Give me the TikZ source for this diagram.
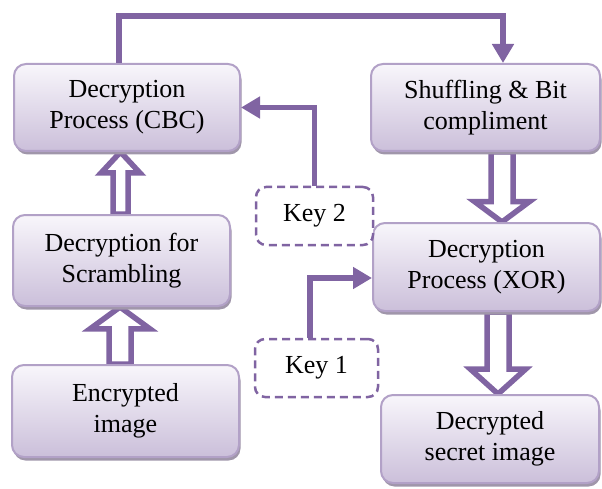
\documentclass[tikz,border=0pt]{standalone}
\usepackage{fontspec}
\setmainfont{LiberationSerif}[Extension=.ttf, UprightFont=*-Regular, BoldFont=*-Bold]
\usetikzlibrary{arrows.meta,calc,shadows,backgrounds}
\definecolor{purp}{HTML}{8064A2}
\definecolor{boxborder}{HTML}{B2A1C7}
\definecolor{boxtop}{HTML}{F8F6FB}
\definecolor{boxbot}{HTML}{CBBFDA}
\definecolor{shadowc}{HTML}{A096AA}
\tikzset{
  procbox/.style={rectangle, rounded corners=12pt, draw=boxborder, line width=2pt,
    top color=boxtop, bottom color=boxbot, align=center, inner sep=0pt,
    font=\fontsize{26}{31}\selectfont,
    drop shadow={shadow xshift=1.5pt, shadow yshift=-3.5pt, fill=shadowc, opacity=1}},
  keybox/.style={rectangle, rounded corners=10pt, draw=purp, line width=2.5pt,
    dash pattern=on 8pt off 5pt, fill=white, align=center, inner sep=0pt,
    font=\fontsize{26}{31}\selectfont},
  conn/.style={draw=purp, line width=5.5pt, line join=miter,
    -{Triangle[length=19pt,width=21pt]}},
  hollow/.style={draw=purp, fill=white, line width=5.5pt, line join=miter}
}
\newcommand{\blockarrow}[5]{%
  \draw[hollow] let \p1=(#1), \p2=(#2), \p3=($(#2)!#5!(#1)$) in
    (\x2-#3,\y1) -- (\x2-#3,\y3) -- (\x2-#4,\y3) -- (\x2,\y2)
    -- (\x2+#4,\y3) -- (\x2+#3,\y3) -- (\x2+#3,\y1) -- cycle;}
\begin{document}
\begin{tikzpicture}[x=1pt,y=-1pt]
\useasboundingbox (0,0) rectangle (602,489);
\node[procbox, minimum width=226pt, minimum height=87pt] (cbc) at (127,107.5) {Decryption\\Process (CBC)};
\node[procbox, minimum width=229pt, minimum height=87pt] (shuf) at (485.5,107.5) {Shuffling \& Bit\\compliment};
\node[procbox, minimum width=217pt, minimum height=91pt] (scr) at (121.5,260.5) {Decryption for\\Scrambling};
\node[procbox, minimum width=227pt, minimum height=92pt] (enc) at (125.5,411) {Encrypted\\image};
\node[procbox, minimum width=227pt, minimum height=88pt] (xor) at (486.5,267) {Decryption\\Process (XOR)};
\node[procbox, minimum width=218pt, minimum height=88pt] (dec) at (490,439) {Decrypted\\secret image};
\node[keybox, minimum width=117pt, minimum height=58pt] (k2) at (314.5,216) {Key 2};
\node[keybox, minimum width=123pt, minimum height=58pt] (k1) at (316.5,368) {Key 1};
\coordinate (topr) at (503,16);
\begin{scope}[on background layer]
\blockarrow{scr.north}{[xshift=-6.5pt]cbc.south}{7.5pt}{19.5pt}{21pt}
\blockarrow{enc.north}{[xshift=-1.5pt]scr.south}{11pt}{30pt}{22pt}
\blockarrow{shuf.south}{[xshift=15.5pt]xor.north}{11pt}{27.5pt}{21pt}
\blockarrow{xor.south}{[xshift=8pt]dec.north}{11pt}{27.5pt}{25pt}
\end{scope}
\draw[conn] ([xshift=-8pt]cbc.north) |- (topr) -- ([xshift=17.5pt]shuf.north);
\draw[conn] (k2.north) |- (cbc.east);
\draw[conn] ([xshift=-6.5pt]k1.north) |- ([yshift=-11pt]xor.west);
\end{tikzpicture}
\end{document}
